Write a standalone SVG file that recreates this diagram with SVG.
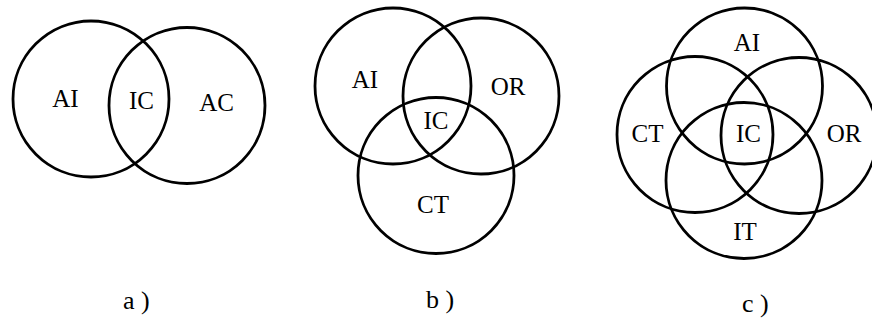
<svg xmlns="http://www.w3.org/2000/svg" width="872" height="324" viewBox="0 0 872 324">
<style>
.c{fill:none;stroke:#000;stroke-width:2.8}
.t{font-family:"Liberation Serif","Times New Roman",serif;font-size:25px;fill:#000;text-anchor:middle}
.cap{font-family:"Liberation Serif","Times New Roman",serif;font-size:26px;fill:#000}
</style>
<rect width="872" height="324" fill="#fff"/>
<g id="diagram-a">
<g id="a-AI"><circle class="c" cx="91" cy="99" r="78"/><text class="t" x="65.5" y="107">AI</text></g>
<g id="a-AC"><circle class="c" cx="187" cy="105.5" r="78"/><text class="t" x="216.5" y="110.5">AC</text></g>
<g id="a-IC"><text class="t" x="141.5" y="109">IC</text></g>
<text id="cap-a" class="cap" x="123" y="309">a )</text>
</g>
<g id="diagram-b">
<g id="b-AI"><circle class="c" cx="393" cy="86" r="78"/><text class="t" x="365" y="88">AI</text></g>
<g id="b-OR"><circle class="c" cx="481" cy="96" r="78"/><text class="t" x="508" y="95">OR</text></g>
<g id="b-CT"><circle class="c" cx="436" cy="175.5" r="78"/><text class="t" x="433" y="213">CT</text></g>
<g id="b-IC"><text class="t" x="436" y="129">IC</text></g>
<text id="cap-b" class="cap" x="426" y="308">b )</text>
</g>
<g id="diagram-c">
<g id="c-AI"><circle class="c" cx="744.5" cy="86" r="78"/><text class="t" x="747" y="50.5">AI</text></g>
<g id="c-CT"><circle class="c" cx="695" cy="134.5" r="78"/><text class="t" x="647.5" y="142">CT</text></g>
<g id="c-OR"><circle class="c" cx="799" cy="135.5" r="78"/><text class="t" x="844" y="142">OR</text></g>
<g id="c-IT"><circle class="c" cx="744" cy="180.5" r="78"/><text class="t" x="745" y="240">IT</text></g>
<g id="c-IC"><text class="t" x="748.5" y="142">IC</text></g>
<text id="cap-c" class="cap" x="742" y="312">c )</text>
</g>
<g id="connectors"/>
</svg>
